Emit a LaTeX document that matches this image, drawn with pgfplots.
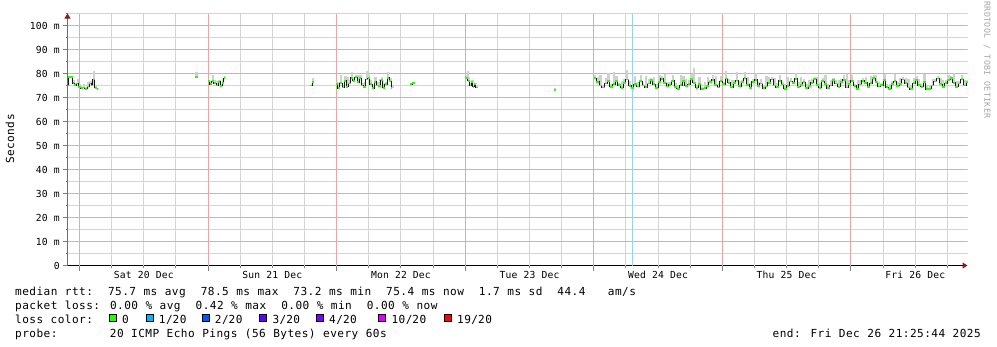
\documentclass[border=0pt]{standalone}
\usepackage{pgfplots}
\pgfplotsset{compat=1.18}
\usepackage{pgfplotstable}
\usepackage{fontspec}
\usetikzlibrary{arrows.meta}
\setmainfont{DejaVu Sans Mono}
\newfontfamily\legfam[LetterSpace=4.0,WordSpace=1.05]{DejaVu Sans Mono}
\newfontfamily\axfam[LetterSpace=1.6,WordSpace=1.027]{DejaVu Sans Mono}
\newcommand\legfont{\legfam\fontsize{11.1bp}{13bp}\selectfont}
\newcommand\axfont{\axfam\fontsize{9.7bp}{11bp}\selectfont}
\newcommand\wmfont{\legfam\fontsize{8.3bp}{9bp}\selectfont}
\definecolor{lossA}{HTML}{26FF00}
\definecolor{lossB}{HTML}{00B8FF}
\definecolor{lossC}{HTML}{0059FF}
\definecolor{lossD}{HTML}{5E00FF}
\definecolor{lossE}{HTML}{7E00FF}
\definecolor{lossF}{HTML}{DD00FF}
\definecolor{lossG}{HTML}{FF0000}
\definecolor{mgrid}{RGB}{236,165,165}
\definecolor{mingrid}{RGB}{212,212,212}
\definecolor{smoke}{RGB}{208,208,208}
\definecolor{arrowred}{RGB}{140,25,25}
\definecolor{vline}{RGB}{150,210,245}
\definecolor{yaxis}{RGB}{110,110,110}

\pgfplotstableread[row sep=\\]{
h v e\\
-2.24 75.0 0.5\\ -2.1 78.5 0.6\\ -1.3 76.0 1.2\\ -1.0 75.2 0.8\\ -0.6 75.8 2.0\\ -0.2 74.5 1.0\\ 0.2 73.8 0.6\\ 0.6 74.2 1.4\\ 1.0 73.6 0.8\\ 1.4 74.6 1.8\\ 1.8 75.8 1.2\\ 2.2 75.0 2.5\\ 2.5 77.5 3.5\\ 2.8 74.0 0.8\\ 3.2 73.6 0.4\\ 3.3 73.6 0\\
nan nan nan\\
21.6 78.5 2.0\\ 22.1 78.5 0\\
nan nan nan\\
23.95 77.0 0.5\\ 24.3 75.5 1.5\\ 24.7 76.8 2.5\\ 25.1 76.0 1.2\\ 25.5 75.0 2.0\\ 25.9 76.5 1.0\\ 26.3 74.8 0.8\\ 26.6 76.2 1.5\\ 26.9 78.0 0.8\\ 27.1 78.0 0\\
nan nan nan\\
43.1 75.0 0.6\\ 43.4 76.5 1.5\\ 43.7 76.5 0\\
nan nan nan\\
47.8 75.5 1.0\\ 48.2 73.8 2.5\\ 48.6 76.0 3.5\\ 49.0 74.2 1.2\\ 49.4 77.0 2.0\\ 49.8 74.5 4.0\\ 50.2 75.8 1.5\\ 50.6 78.2 2.5\\ 51.0 77.0 1.2\\ 51.4 78.5 1.0\\ 51.8 76.3 3.0\\ 52.2 78.0 1.5\\ 52.6 75.0 1.0\\ 53.0 74.5 2.0\\ 53.4 77.5 3.5\\ 53.8 78.0 1.2\\ 54.2 75.5 2.0\\ 54.6 73.8 1.0\\ 55.0 76.5 2.2\\ 55.4 75.0 1.5\\ 55.8 74.8 3.0\\ 56.2 77.2 1.2\\ 56.6 74.0 2.0\\ 57.0 75.5 1.0\\ 57.4 78.2 2.5\\ 57.8 76.8 1.2\\ 58.2 74.0 0.8\\ 58.4 74.0 0\\
nan nan nan\\
61.7 75.5 0.5\\ 62.1 76.0 0.6\\ 62.6 76.0 0\\
nan nan nan\\
71.9 78.5 0.8\\ 72.2 78.0 3.0\\ 72.5 77.0 1.5\\ 72.8 75.0 1.2\\ 73.1 76.5 1.0\\ 73.4 74.5 0.8\\ 73.7 75.5 0.5\\ 74.0 74.2 0.5\\ 74.3 74.2 0\\
nan nan nan\\
88.5 73.2 0.8\\ 89.0 73.2 0\\
nan nan nan\\
96.0 78.0 1.5\\ 96.5 76.5 2.0\\ 97.0 75.0 4.5\\ 97.5 74.2 1.0\\ 98.0 75.8 2.5\\ 98.5 76.8 3.5\\ 99.0 74.5 1.2\\ 99.5 75.5 5.0\\ 100.0 77.0 2.0\\ 100.5 75.2 1.0\\
101.0 74.0 3.0\\ 101.5 76.2 1.5\\ 102.0 77.5 4.0\\ 102.5 74.8 2.2\\ 103.0 73.8 1.0\\ 103.5 75.6 3.5\\ 104.0 74.6 1.8\\ 104.5 76.8 2.5\\ 105.0 75.0 1.2\\ 105.5 74.3 4.5\\
106.0 75.8 2.0\\ 106.5 77.2 1.0\\ 107.0 75.5 3.0\\ 107.5 74.1 1.5\\ 108.0 76.4 2.8\\ 108.5 77.8 1.2\\ 109.0 76.0 3.6\\ 109.5 74.6 2.0\\ 110.0 75.3 1.0\\ 110.5 77.0 2.5\\
111.0 74.4 1.8\\ 111.5 73.7 1.0\\ 112.0 75.2 4.2\\ 112.5 76.9 2.0\\ 113.0 74.8 3.0\\ 113.5 75.6 1.5\\ 114.0 77.6 2.2\\ 114.5 76.2 6.0\\ 115.0 74.0 1.2\\ 115.5 75.7 2.8\\
116.0 73.4 1.0\\ 116.5 73.8 2.5\\ 117.0 74.9 3.5\\ 117.5 76.3 1.2\\ 118.0 77.4 2.0\\ 118.5 75.1 4.0\\ 119.0 74.2 1.5\\ 119.5 76.8 2.2\\ 120.0 75.5 1.0\\ 120.5 77.9 3.0\\
121.0 76.1 1.5\\ 121.5 74.3 2.8\\ 122.0 75.9 1.2\\ 122.5 77.1 3.5\\ 123.0 74.7 2.0\\ 123.5 76.5 1.0\\ 124.0 78.0 2.5\\ 124.5 75.3 3.2\\ 125.0 74.1 1.8\\ 125.5 76.6 1.2\\
126.0 77.3 3.0\\ 126.5 74.9 1.5\\ 127.0 75.8 2.0\\ 127.5 73.9 1.0\\ 128.0 74.6 4.5\\ 128.5 76.2 2.2\\ 129.0 77.5 1.2\\ 129.5 75.0 3.0\\ 130.0 74.3 1.8\\ 130.5 76.9 2.5\\
131.0 75.4 1.2\\ 131.5 73.6 2.0\\ 132.0 74.8 3.8\\ 132.5 76.7 1.5\\ 133.0 75.9 1.0\\ 133.5 77.8 2.5\\ 134.0 74.5 1.8\\ 134.5 75.2 3.5\\ 135.0 76.4 1.2\\ 135.5 73.8 2.0\\
136.0 74.7 2.5\\ 136.5 76.1 1.5\\ 137.0 77.6 1.0\\ 137.5 75.3 3.2\\ 138.0 74.0 2.0\\ 138.5 76.8 1.2\\ 139.0 75.5 4.0\\ 139.5 73.9 1.8\\ 140.0 75.0 2.2\\ 140.5 77.2 1.0\\
141.0 75.8 1.5\\ 141.5 74.4 3.0\\ 142.0 76.5 1.2\\ 142.5 77.4 2.0\\ 143.0 74.2 5.5\\ 143.5 75.6 1.8\\ 144.0 76.9 2.5\\ 144.5 74.8 1.0\\ 145.0 73.7 3.5\\ 145.5 75.4 2.0\\
146.0 77.0 1.0\\ 146.5 76.2 2.2\\ 147.0 74.5 1.5\\ 147.5 75.9 3.0\\ 148.0 78.1 1.2\\ 148.5 76.4 2.8\\ 149.0 74.6 1.8\\ 149.5 75.1 1.0\\ 150.0 77.3 2.5\\ 150.5 74.3 1.5\\
151.0 73.6 2.0\\ 151.5 75.5 1.2\\ 152.0 76.8 3.2\\ 152.5 74.9 1.5\\ 153.0 75.7 2.5\\ 153.5 77.5 1.0\\ 154.0 76.0 2.0\\ 154.5 74.2 3.5\\ 155.0 73.5 1.2\\ 155.5 75.9 2.2\\
156.0 77.2 1.8\\ 156.5 75.1 2.5\\ 157.0 74.4 1.0\\ 157.5 76.6 3.0\\ 158.0 73.4 2.0\\ 158.5 73.6 1.5\\ 159.0 75.0 2.8\\ 159.5 76.7 1.2\\ 160.0 77.9 1.0\\ 160.5 75.6 2.5\\
161.0 74.3 3.0\\ 161.5 76.0 1.5\\ 162.0 77.4 2.0\\ 162.5 78.0 1.0\\ 163.0 76.2 4.0\\ 163.5 74.5 2.5\\ 164.0 75.8 1.2\\ 164.5 77.6 1.8\\ 165.0 75.0 2.2\\ 165.5 76.3 1.0\\
165.76 76.3 0\\
}\rtt

\begin{document}
\begin{tikzpicture}
\path (0bp,0bp) rectangle (997bp,-347bp);
\begin{axis}[
  at={(67.5bp,-265.5bp)}, anchor=south west,
  scale only axis, width=900bp, height=252bp,
  xmin=-2.24, xmax=165.76, ymin=0, ymax=105,
  axis x line=bottom, axis y line=left,
  x axis line style={black, line width=1bp, -{Triangle[length=5bp,width=6bp,color=arrowred]}},
  y axis line style={yaxis, line width=1bp, -{Triangle[length=5bp,width=6bp,color=arrowred]}},
  xtick={0,24,48,72,96,120,144}, xticklabels={},
  minor xtick={6,12,18,30,36,42,54,60,66,78,84,90,102,108,114,126,132,138,150,156,162},
  extra x ticks={12,36,60,84,108,132,156},
  extra x tick labels={Sat 20 Dec,Sun 21 Dec,Mon 22 Dec,Tue 23 Dec,Wed 24 Dec,Thu 25 Dec,Fri 26 Dec},
  extra x tick style={major tick length=0pt,
     xticklabel style={anchor=base, inner sep=0pt, yshift=-13bp}},
  ytick={0,10,20,30,40,50,60,70,80,90,100},
  yticklabels={0,10 m,20 m,30 m,40 m,50 m,60 m,70 m,80 m,90 m,100 m},
  minor ytick={5,15,25,35,45,55,65,75,85,95,105},
  yticklabel style={anchor=east, inner sep=0pt, xshift=-2.5bp},
  grid=none,
  tick align=outside, major tick length=5bp, minor tick length=2bp,
  major tick style={line width=1bp},
  minor tick style={line width=1bp},
  ticklabel style={font=\axfont},
  /pgf/number format/assume math mode=true,
  unbounded coords=jump,
]
\pgfplotsinvokeforeach{6,12,18,30,36,42,54,60,66,78,84,90,102,108,114,126,132,138,150,156,162}{
  \draw[mingrid, line width=1bp] (axis cs:#1,0) -- (axis cs:#1,105);}
\pgfplotsinvokeforeach{5,15,25,35,45,55,65,75,85,95,104.8}{
  \draw[mingrid, line width=1bp] (axis cs:-2.24,#1) -- (axis cs:165.76,#1);}
\pgfplotsinvokeforeach{0,24,48,72,96,120,144}{
  \draw[mgrid, line width=1bp] (axis cs:#1,0) -- (axis cs:#1,105);}
\pgfplotsinvokeforeach{10,20,30,40,50,60,70,80,90,100}{
  \draw[mgrid, line width=1bp] (axis cs:-2.24,#1) -- (axis cs:165.76,#1);}
\addplot[vline, line width=1.5bp, forget plot] coordinates {(103.2,0) (103.2,105)};
\addplot[draw=none, mark=none, forget plot,
  error bars/.cd, y dir=plus, y explicit, error mark=none,
  error bar style={draw=smoke, solid, line width=2.2bp}]
  table[x expr=\thisrow{h}+0.25, y=v, y error=e] {\rtt};
\addplot[draw=black!90, mark=none, line width=1bp, const plot, forget plot] table[x=h, y=v] {\rtt};
\addplot[draw=lossA, mark=none, line width=1.8bp, jump mark left, forget plot] table[x=h, y=v] {\rtt};
\end{axis}
% legend block
\node[anchor=center, rotate=90, inner sep=0pt, font=\legfont] at (10bp,-139bp) {Seconds};
\node[anchor=center, rotate=-90, inner sep=0pt, font=\wmfont, text=black!35] at (987bp,-60bp) {RRDTOOL / TOBI OETIKER};
\node[anchor=base west, inner sep=0pt, font=\legfont] at (15bp,-295bp)
  {median rtt:~~75.7 ms avg~~78.5 ms max~~73.2 ms min~~75.4 ms now~~1.7 ms sd~~44.4~~~am/s};
\node[anchor=base west, inner sep=0pt, font=\legfont] at (15bp,-309bp)
  {packet loss: 0.00 \% avg~~0.42 \% max~~0.00 \% min~~0.00 \% now};
\node[anchor=base west, inner sep=0pt, font=\legfont] at (15bp,-323bp) {loss color:};
\node[anchor=base west, inner sep=0pt, font=\legfont] at (15bp,-337bp)
  {probe:~~~~~~~20 ICMP Echo Pings (56 Bytes) every 60s};
\node[anchor=base east, inner sep=0pt, font=\legfont] at (981bp,-337bp)
  {end: Fri Dec 26 21:25:44 2025};
\foreach \bx/\col/\lab in {109/lossA/0, 145.7/lossB/1\slash 20, 201.7/lossC/2\slash 20, 259.3/lossD/3\slash 20, 316/lossE/4\slash 20, 378.3/lossF/10\slash 20, 444/lossG/19\slash 20}{
  \filldraw[fill=\col, draw=black, line width=1bp] ({\bx bp+0.5bp},-314.8bp) rectangle ++(7bp,-7bp);
  \node[anchor=base west, inner sep=0pt, font=\legfont] at ({\bx bp+13bp},-323bp) {\lab};
}
\end{tikzpicture}
\end{document}
